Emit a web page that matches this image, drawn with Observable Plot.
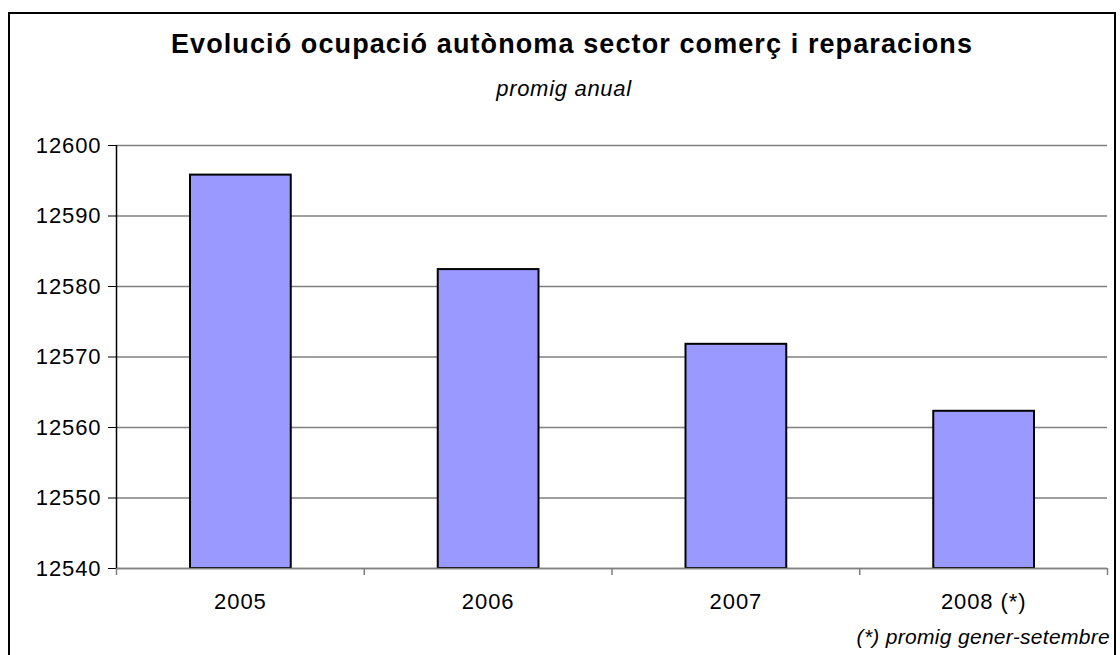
<!DOCTYPE html>
<html>
<head>
<meta charset="utf-8">
<script src="https://cdn.jsdelivr.net/npm/d3@7"></script>
<script src="https://cdn.jsdelivr.net/npm/@observablehq/plot@0.6"></script>
<style>
  html, body { margin: 0; padding: 0; background: #fff; overflow: hidden; width: 1120px; height: 655px; }
  body { font-family: Arial, "Liberation Sans", sans-serif; position: relative; }
  #frame { position: absolute; left: 8px; top: 12px; width: 1108px; height: 700px; border: 2px solid #000; box-sizing: border-box; }
  #title { position: absolute; left: 122px; width: 900px; top: 29px; text-align: center; font-weight: bold; font-size: 27px; letter-spacing: 1.1px; color: #000; white-space: nowrap; }
  #subtitle { position: absolute; left: 364px; width: 400px; top: 76px; text-align: center; font-style: italic; font-size: 22px; letter-spacing: 0.7px; color: #000; }
  #note { position: absolute; right: 10px; top: 625px; font-style: italic; font-size: 21px; letter-spacing: 0.3px; color: #000; white-space: nowrap; }
  #chart { position: absolute; left: 0; top: 0; }
</style>
</head>
<body>
<div id="frame"></div>
<div id="chart"></div>
<div id="title">Evolució ocupació autònoma sector comerç i reparacions</div>
<div id="subtitle">promig anual</div>
<div id="note">(*) promig gener-setembre</div>
<script>
const categories = ["2005", "2006", "2007", "2008 (*)"];
const values = [12595.8, 12582.4, 12571.8, 12562.3];
const yTicks = [12540, 12550, 12560, 12570, 12580, 12590, 12600];

const data = categories.map((c, i) => ({cat: c, idx: i, value: values[i]}));
const centers = categories.map((c, i) => i + 0.5);
const bounds = d3.range(categories.length + 1);

const chart = Plot.plot({
  width: 1120,
  height: 655,
  marginLeft: 116,
  marginRight: 13,
  marginTop: 145,
  marginBottom: 87,
  style: {fontFamily: "Arial, 'Liberation Sans', sans-serif", background: "transparent", letterSpacing: "0.9px"},
  x: {type: "linear", domain: [0, categories.length]},
  y: {domain: [12540, 12600]},
  marks: [
    Plot.gridY(yTicks, {stroke: "#808080", strokeOpacity: 1, strokeWidth: 1.5}),
    Plot.rectY(data, {x: "idx", interval: 1, y1: 12540, y2: "value", fill: "#9999ff", stroke: "#000", strokeWidth: 2, insetLeft: 74, insetRight: 73}),
    Plot.ruleY([12540], {stroke: "#808080", strokeWidth: 1.5}),
    Plot.ruleX([0], {stroke: "#000", strokeWidth: 1.5}),
    Plot.axisY({ticks: yTicks, tickSize: 8, tickPadding: 7, fontSize: 22, label: null, tickFormat: d => String(d), stroke: "#000", color: "#000"}),
    Plot.axisX({ticks: bounds, tickSize: 7, tickFormat: () => "", label: null, stroke: "#808080", strokeWidth: 1.5}),
    Plot.axisX({ticks: centers, tickSize: 0, tickPadding: 25, fontSize: 22, label: null, tickFormat: d => categories[Math.floor(d)], color: "#000"})
  ]
});
document.getElementById("chart").appendChild(chart);
</script>
</body>
</html>
